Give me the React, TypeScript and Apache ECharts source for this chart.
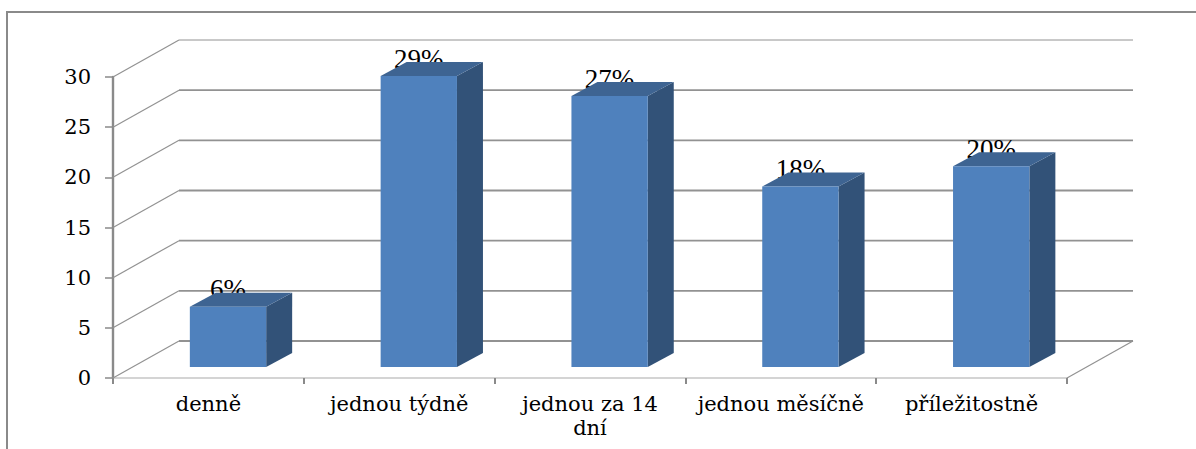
import React, { useEffect, useRef } from "react";
import * as echarts from "echarts";

const categories = ["denně", "jednou týdně", "jednou za 14\ndní", "jednou měsíčně", "příležitostně"];
const shares = [6, 29, 27, 18, 20];
const yTicks = [0, 5, 10, 15, 20, 25, 30];

const AXIS_GREY = "#8a8a8a";
const WALL_GREY = "#929292";
const FRONT = "#4f81bd";
const SIDE = "#325278";
const TOP = "#3e6492";
const SERIF = "'Liberation Serif', serif";

// Oblique projection used to fake the 3D box: the wall depth and the box depth, in px.
const WALL_DX = 66;
const WALL_DY = -37;
const BAR_SHIFT_DX = 19.6;
const BAR_SHIFT_DY = -11;
const BOX_DX = 26;
const BOX_DY = -14;
const BAR_RATIO = 0.4;

function renderWall(params: any, api: any) {
  const tick = api.value(1);
  const sys = params.coordSys;
  const y = api.coord([0, tick])[1];
  const left = sys.x;
  const right = sys.x + sys.width;
  const thin = tick === 30;
  const shape = (points: number[][], lineWidth: number) => ({
    type: "polyline",
    shape: { points },
    style: { stroke: WALL_GREY, lineWidth, fill: "none" },
  });
  const children: any[] = [
    shape([[left, y], [left + WALL_DX, y + WALL_DY]], 1.2),
    shape([[left + WALL_DX, y + WALL_DY], [right + WALL_DX, y + WALL_DY]], thin ? 1 : 1.8),
  ];
  if (tick === 0) {
    children.push(shape([[right, y], [right + WALL_DX, y + WALL_DY]], 1.2));
  }
  return { type: "group", children };
}

function renderBox(_params: any, api: any) {
  const idx = api.value(0);
  const top = api.coord([idx, api.value(1)]);
  const base = api.coord([idx, 0]);
  const w = api.size([1, 0])[0] * BAR_RATIO;
  const x0 = top[0] - w / 2 + BAR_SHIFT_DX;
  const x1 = x0 + w;
  const yT = top[1] + BAR_SHIFT_DY;
  const yB = base[1] + BAR_SHIFT_DY;
  const poly = (points: number[][], fill: string) => ({
    type: "polygon",
    shape: { points },
    style: { fill },
  });
  return {
    type: "group",
    children: [
      poly([[x1, yT], [x1 + BOX_DX, yT + BOX_DY], [x1 + BOX_DX, yB + BOX_DY], [x1, yB]], SIDE),
      poly([[x0, yT], [x0 + BOX_DX, yT + BOX_DY], [x1 + BOX_DX, yT + BOX_DY], [x1, yT]], TOP),
      poly([[x0, yT], [x1, yT], [x1, yB], [x0, yB]], FRONT),
    ],
  };
}

// Value labels sit behind the boxes, so the top face trims their lower edge.
function renderLabel(_params: any, api: any) {
  const idx = api.value(0);
  const v = api.value(1);
  const top = api.coord([idx, v]);
  return {
    type: "text",
    style: {
      text: `${v}%`,
      x: top[0] + BAR_SHIFT_DX,
      y: top[1] + BAR_SHIFT_DY - 4,
      textAlign: "center",
      textVerticalAlign: "bottom",
      font: `27px ${SERIF}`,
      fill: "#000",
    },
  };
}

export default function App() {
  const ref = useRef<HTMLDivElement>(null);

  useEffect(() => {
    const chart = echarts.init(ref.current!, undefined, { renderer: "svg" });
    const barData = shares.map((v, i) => [i, v]);
    chart.setOption({
      animation: false,
      backgroundColor: "#fff",
      grid: { left: 113, top: 77, width: 954, height: 301, containLabel: false },
      graphic: [
        {
          type: "polyline",
          shape: { points: [[7, 449], [7, 12], [1196, 12]] },
          style: { stroke: AXIS_GREY, lineWidth: 2, fill: "none" },
        },
      ],
      xAxis: {
        type: "category",
        data: categories,
        axisLine: { lineStyle: { color: "#c6c6c6", width: 1.5 } },
        axisTick: { show: true, length: 6, lineStyle: { color: AXIS_GREY, width: 2 } },
        axisLabel: {
          interval: 0,
          margin: 14,
          fontFamily: "'DejaVu Serif', serif",
          fontSize: 21,
          lineHeight: 24,
          color: "#000",
        },
      },
      yAxis: {
        type: "value",
        min: 0,
        max: 30,
        interval: 5,
        splitLine: { show: false },
        axisLine: { show: true, lineStyle: { color: AXIS_GREY, width: 2.4 } },
        axisTick: { show: true, length: 8, lineStyle: { color: AXIS_GREY, width: 1.5 } },
        axisLabel: {
          margin: 22,
          fontFamily: "'DejaVu Serif', serif",
          fontSize: 21,
          color: "#000",
        },
      },
      series: [
        {
          type: "custom",
          z: 1,
          clip: false,
          silent: true,
          renderItem: renderWall,
          data: yTicks.map((t) => [0, t]),
        },
        {
          type: "custom",
          z: 2,
          clip: false,
          silent: true,
          renderItem: renderLabel,
          data: barData,
        },
        {
          type: "custom",
          z: 3,
          clip: false,
          silent: true,
          renderItem: renderBox,
          data: barData,
        },
      ],
    });
    return () => chart.dispose();
  }, []);

  return <div ref={ref} style={{ position: "absolute", left: 0, top: 0, width: 1196, height: 449 }} />;
}
